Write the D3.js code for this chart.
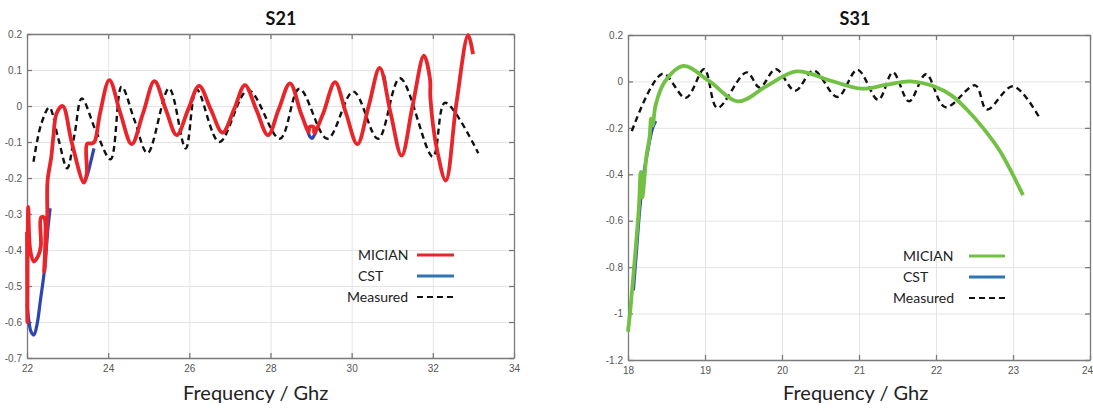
<!DOCTYPE html>
<html>
<head>
<meta charset="utf-8">
<script src="https://cdn.jsdelivr.net/npm/d3@7"></script>
<style>
  body { margin: 0; background: #fff; }
  .tick text { font-family: "Liberation Sans", Arial, sans-serif; font-size: 10px; fill: #555; }
  .grid line { stroke: #e4e4e4; stroke-width: 1; }
  .grid path { display: none; }
  .axis path, .axis line { stroke: #7a7a7a; stroke-width: 1.3; }
</style>
</head>
<body>
<div id="chart"></div>
<script>
// S21 panel data [GHz, value]
const s21Ticks = { x: [22, 24, 26, 28, 30, 32, 34], y: [0.2, 0.1, 0, -0.1, -0.2, -0.3, -0.4, -0.5, -0.6, -0.7] };
const s21Mician = [
  [22.0, -0.35], [22.008, -0.6], [22.03, -0.28], [22.08, -0.40], [22.17, -0.432], [22.26, -0.42],
  [22.34, -0.39], [22.345, -0.31], [22.42, -0.31], [22.425, -0.46], [22.47, -0.39], [22.50, -0.31],
  [22.505, -0.21], [22.6, -0.14], [22.65, -0.085], [22.73, -0.02], [22.88, 0.0], [23.1, -0.1],
  [23.40, -0.213], [23.47, -0.19], [23.48, -0.105], [23.58, -0.104], [23.66, -0.1], [23.8, -0.02],
  [24.03, 0.072], [24.3, -0.02], [24.58, -0.106], [24.86, -0.02], [25.14, 0.069], [25.42, -0.01],
  [25.69, -0.081], [25.97, -0.01], [26.24, 0.056], [26.53, -0.01], [26.82, -0.074], [27.1, -0.01],
  [27.37, 0.058], [27.65, -0.01], [27.94, -0.081], [28.2, -0.01], [28.48, 0.063], [28.75, -0.02],
  [28.94, -0.072], [28.96, -0.058], [29.06, -0.058], [29.08, -0.075], [29.3, -0.02], [29.59, 0.066],
  [29.86, -0.02], [30.14, -0.106], [30.42, 0.0], [30.69, 0.106], [30.96, -0.02], [31.23, -0.138],
  [31.5, 0.0], [31.78, 0.14], [31.93, 0.075], [31.94, 0.022], [32.1, -0.12], [32.32, -0.207],
  [32.58, 0.007], [32.87, 0.197], [32.99, 0.144]
];
const s21Cst = [
  [22.0, -0.548], [22.05, -0.60], [22.1, -0.627], [22.17, -0.636], [22.25, -0.605], [22.33, -0.54],
  [22.42, -0.465], [22.52, -0.335], [22.57, -0.284], null,
  [23.42, -0.21], [23.49, -0.19], [23.57, -0.155], [23.65, -0.118], null,
  [28.92, -0.07], [28.97, -0.085], [29.02, -0.09], [29.07, -0.083], [29.12, -0.072], null,
  [30.79, 0.085], [30.83, 0.062]
];
const s21Measured = [
  [22.16, -0.155], [22.35, -0.05], [22.55, -0.004], [22.77, -0.09], [22.99, -0.173], [23.17, -0.08],
  [23.35, 0.021], [23.7, -0.07], [24.06, -0.148], [24.33, 0.054], [24.65, -0.04], [24.97, -0.131],
  [25.5, 0.049], [25.91, -0.118], [26.18, 0.046], [26.74, -0.1], [27.45, 0.044], [28.23, -0.091],
  [28.71, 0.048], [29.40, -0.091], [30.04, 0.04], [30.65, -0.091], [31.19, 0.077], [32.0, -0.141],
  [32.30, 0.009], [33.12, -0.131]
];

// S31 panel data [GHz, value]
const s31Ticks = { x: [18, 19, 20, 21, 22, 23, 24], y: [0.2, 0, -0.2, -0.4, -0.6, -0.8, -1, -1.2] };
const s31Mician = [
  [18.0, -1.078], [18.03, -0.985], [18.09, -0.757], [18.14, -0.55], [18.165, -0.39], [18.185, -0.5],
  [18.24, -0.32], [18.28, -0.24], [18.30, -0.16], [18.32, -0.19], [18.36, -0.1], [18.48, 0.0],
  [18.72, 0.067], [19.06, 0.0], [19.43, -0.086], [19.8, -0.02], [20.19, 0.043], [20.66, 0.0],
  [21.03, -0.031], [21.35, -0.015], [21.66, 0.0], [21.97, -0.021], [22.2, -0.06], [22.4, -0.121],
  [22.61, -0.2], [22.83, -0.3], [23.13, -0.49]
];
const s31Cst = [
  [18.07, -0.9], [18.11, -0.73], [18.15, -0.56], [18.19, -0.43], [18.25, -0.31], [18.32, -0.2], [18.36, -0.17]
];
const s31Measured = [
  [18.05, -0.214], [18.45, 0.033], [18.75, -0.071], [18.99, 0.053], [19.16, -0.114], [19.54, 0.039],
  [19.71, -0.026], [19.92, 0.053], [20.17, -0.04], [20.41, 0.047], [20.72, -0.067], [20.98, 0.05],
  [21.25, -0.079], [21.44, 0.039], [21.65, -0.086], [21.87, 0.031], [22.12, -0.111], [22.51, -0.017],
  [22.66, -0.121], [23.0, -0.021], [23.35, -0.16]
];

const legendNames = ["MICIAN", "CST", "Measured"];

const svg = d3.select("#chart").append("svg")
  .attr("width", 1093).attr("height", 411);

function drawPanel(cfg) {
  const x = d3.scaleLinear().domain(cfg.xDomain).range([cfg.left, cfg.right]);
  const y = d3.scaleLinear().domain(cfg.yDomain).range([cfg.bottom, cfg.top]);
  const w = cfg.right - cfg.left, h = cfg.bottom - cfg.top;
  const g = svg.append("g");
  const fmt = d => String(+d.toFixed(1));

  // grid
  g.append("g").attr("class", "grid")
    .attr("transform", `translate(0,${cfg.bottom})`)
    .call(d3.axisBottom(x).tickValues(cfg.ticks.x).tickSize(-h).tickFormat(""));
  g.append("g").attr("class", "grid")
    .attr("transform", `translate(${cfg.left},0)`)
    .call(d3.axisLeft(y).tickValues(cfg.ticks.y).tickSize(-w).tickFormat(""));

  // box with inward ticks
  const xAxis = g.append("g").attr("class", "axis")
    .attr("transform", `translate(0,${cfg.bottom})`)
    .call(d3.axisBottom(x).tickValues(cfg.ticks.x).tickSizeInner(-5).tickSizeOuter(0).tickPadding(7).tickFormat(fmt));
  // keep last x label inside the page
  xAxis.selectAll(".tick text").filter(d => x(d) > 1085).attr("dx", -3);
  g.append("g").attr("class", "axis")
    .attr("transform", `translate(0,${cfg.top})`)
    .call(d3.axisTop(x).tickValues(cfg.ticks.x).tickSizeInner(-5).tickSizeOuter(0).tickFormat(""));
  g.append("g").attr("class", "axis")
    .attr("transform", `translate(${cfg.left},0)`)
    .call(d3.axisLeft(y).tickValues(cfg.ticks.y).tickSizeInner(-5).tickSizeOuter(0).tickPadding(5).tickFormat(fmt));
  g.append("g").attr("class", "axis")
    .attr("transform", `translate(${cfg.right},0)`)
    .call(d3.axisRight(y).tickValues(cfg.ticks.y).tickSizeInner(-5).tickSizeOuter(0).tickFormat(""));

  const line = d3.line()
    .defined(d => d !== null)
    .x(d => x(d[0])).y(d => y(d[1]))
    .curve(d3.curveCatmullRom.alpha(0.5));

  const curves = g.append("g");
  curves.append("path").datum(cfg.measured)
    .attr("fill", "none").attr("stroke", "#111").attr("stroke-width", 2.4)
    .attr("stroke-dasharray", "6,4").attr("d", line);
  curves.append("path").datum(cfg.cst)
    .attr("fill", "none").attr("stroke", "#2f45b0").attr("stroke-width", 3.2).attr("d", line);
  curves.append("path").datum(cfg.mician)
    .attr("fill", "none").attr("stroke", cfg.color).attr("stroke-width", 3.8)
    .attr("stroke-linejoin", "round").attr("d", line);

  // title and axis label
  svg.append("text").attr("x", cfg.titleX).attr("y", 25)
    .attr("text-anchor", "middle").attr("font-family", "Lato, 'Open Sans', sans-serif")
    .attr("font-weight", "bold").attr("font-size", 18).attr("fill", "#111").text(cfg.title);
  svg.append("text").attr("x", cfg.labelX).attr("y", 400)
    .attr("font-family", "Lato, 'Open Sans', sans-serif")
    .attr("font-size", 20).attr("fill", "#222").text("Frequency / Ghz");

  // legend
  const legColors = [cfg.color, "#2e75b6", "#111"];
  legendNames.forEach((name, i) => {
    const ly = cfg.legY + i * 21;
    svg.append("text").attr("x", cfg.legTextX[i]).attr("y", ly + 5)
      .attr("font-family", "Lato, 'Open Sans', sans-serif").attr("font-size", 14)
      .attr("fill", "#222").text(name);
    svg.append("line").attr("x1", cfg.legLine[0]).attr("x2", cfg.legLine[1])
      .attr("y1", ly).attr("y2", ly)
      .attr("stroke", legColors[i]).attr("stroke-width", i === 2 ? 2 : 3)
      .attr("stroke-dasharray", i === 2 ? "6,4" : null);
  });
}

drawPanel({
  xDomain: [22, 34], yDomain: [-0.7, 0.2], left: 27, right: 514, top: 34, bottom: 358,
  ticks: s21Ticks, mician: s21Mician, cst: s21Cst, measured: s21Measured, color: "#e8252a",
  title: "S21", titleX: 281, labelX: 183, legY: 255, legTextX: [358, 358, 347], legLine: [417, 454]
});
drawPanel({
  xDomain: [18, 24], yDomain: [-1.2, 0.2], left: 628, right: 1090, top: 35, bottom: 360,
  ticks: s31Ticks, mician: s31Mician, cst: s31Cst, measured: s31Measured, color: "#72c144",
  title: "S31", titleX: 855, labelX: 783, legY: 256, legTextX: [903, 903, 893], legLine: [969, 1005]
});
</script>
</body>
</html>
